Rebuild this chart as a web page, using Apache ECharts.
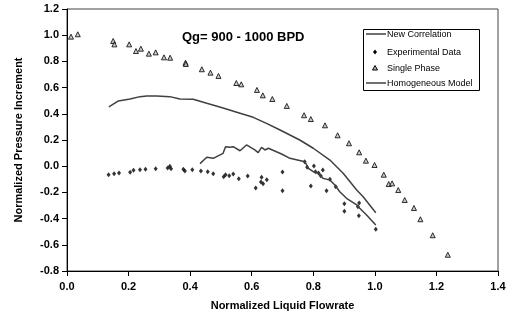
<!DOCTYPE html>
<html><head><meta charset="utf-8">
<script src="https://cdn.jsdelivr.net/npm/echarts@6/dist/echarts.min.js"></script>
<style>html,body{margin:0;padding:0;background:#fff}#c{width:516px;height:331px}</style>
</head><body><div id="c"></div>
<script>
const xTicks = [0.0, 0.2, 0.4, 0.6, 0.8, 1.0, 1.2, 1.4];
const yTicks = [-0.8, -0.6, -0.4, -0.2, 0.0, 0.2, 0.4, 0.6, 0.8, 1.0, 1.2];
const legendNames = ['New Correlation', 'Experimental Data', 'Single Phase', 'Homogeneous Model'];

const singlePhase = [
 [0.013,0.989],[0.035,1.007],[0.150,0.956],[0.154,0.930],[0.202,0.930],[0.224,0.879],[0.240,0.897],
 [0.266,0.859],[0.288,0.869],[0.315,0.831],[0.335,0.828],[0.385,0.790],[0.386,0.780],[0.438,0.740],
 [0.466,0.714],[0.492,0.689],[0.550,0.635],[0.566,0.625],[0.617,0.582],[0.636,0.541],[0.667,0.513],
 [0.714,0.460],[0.770,0.389],[0.792,0.360],[0.838,0.312],[0.879,0.236],[0.916,0.175],[0.949,0.106],
 [0.971,0.042],[0.999,0.009],[1.029,-0.065],[1.045,-0.136],[1.056,-0.131],[1.076,-0.182],[1.097,-0.258],
 [1.127,-0.319],[1.148,-0.405],[1.188,-0.527],[1.237,-0.676]
];

const experimental = [
 [0.135,-0.065],[0.153,-0.057],[0.169,-0.052],[0.205,-0.047],[0.216,-0.031],[0.237,-0.027],[0.255,-0.024],
 [0.288,-0.019],[0.327,-0.014],[0.334,-0.001],[0.338,-0.019],[0.378,-0.024],[0.383,-0.037],[0.407,-0.027],
 [0.435,-0.037],[0.457,-0.042],[0.475,-0.057],[0.509,-0.080],[0.515,-0.065],[0.527,-0.072],[0.540,-0.060],
 [0.558,-0.095],[0.587,-0.075],[0.613,-0.166],[0.630,-0.121],[0.632,-0.085],[0.637,-0.134],[0.649,-0.103],
 [0.700,-0.044],[0.700,-0.187],[0.772,0.034],[0.780,-0.008],[0.792,-0.151],[0.802,0.002],[0.807,-0.042],
 [0.817,-0.052],[0.824,-0.073],[0.831,-0.029],[0.843,-0.187],[0.854,-0.100],[0.873,-0.156],[0.901,-0.286],
 [0.901,-0.344],[0.945,-0.309],[0.949,-0.281],[0.948,-0.378],[1.003,-0.482]
];

const homogeneous = [
 [0.136,0.452],[0.167,0.498],[0.205,0.513],[0.237,0.531],[0.259,0.536],[0.291,0.536],[0.334,0.531],
 [0.367,0.513],[0.410,0.511],[0.454,0.480],[0.507,0.444],[0.562,0.404],[0.605,0.373],[0.648,0.327],
 [0.692,0.276],[0.724,0.238],[0.756,0.200],[0.800,0.137],[0.854,0.047],[0.897,-0.054],[0.941,-0.182],
 [0.962,-0.233],[1.003,-0.355]
];

const newCorrelation = [
 [0.432,0.020],[0.454,0.068],[0.475,0.060],[0.507,0.098],[0.515,0.149],[0.529,0.144],[0.540,0.149],
 [0.562,0.118],[0.583,0.162],[0.610,0.124],[0.621,0.103],[0.632,0.144],[0.643,0.124],[0.654,0.137],
 [0.697,0.093],[0.724,0.060],[0.773,0.034],[0.784,-0.016],[0.800,-0.042],[0.816,-0.054],[0.832,-0.093],
 [0.854,-0.105],[0.870,-0.144],[0.886,-0.195],[0.908,-0.245],[0.941,-0.296],[0.951,-0.321],[0.973,-0.373],
 [1.003,-0.449]
];

const FONT = 'Liberation Sans, Arial, sans-serif';
const LINE_COLOR = '#404040';

// legend built as graphic elements
const LX = 363, LY = 29, LW = 116, LH = 61;
const rowY = [34, 52, 68, 83];
const legendEls = [{type:'rect', shape:{x:LX+0.5, y:LY+0.5, width:LW, height:LH}, style:{fill:'#fff', stroke:'#000', lineWidth:1}, z:10}];
legendNames.forEach((nm, i) => {
  const cy = rowY[i];
  if (i === 0 || i === 3) {
    legendEls.push({type:'line', shape:{x1:366, y1:cy, x2:386, y2:cy}, style:{stroke:LINE_COLOR, lineWidth:1.5}, z:11});
  } else if (i === 1) {
    legendEls.push({type:'polygon', shape:{points:[[375,cy-2.5],[377,cy],[375,cy+2.5],[373,cy]]}, style:{fill:'#000'}, z:11});
  } else {
    legendEls.push({type:'polygon', shape:{points:[[375,cy-2.5],[377.5,cy+2],[372.5,cy+2]]}, style:{fill:'#bbb', stroke:'#000', lineWidth:1}, z:11});
  }
  legendEls.push({type:'text', x:387, y:cy + 0.5, style:{text:nm, fontFamily:FONT, fontSize:9, fill:'#000', verticalAlign:'middle'}, z:11});
});

const chart = echarts.init(document.getElementById('c'), null, {renderer:'canvas'});
chart.setOption({
  animation: false,
  backgroundColor: '#fff',
  title: {
    text: 'Qg= 900 - 1000 BPD', left: 177, top: 26,
    textStyle: {fontFamily: FONT, fontSize: 13, fontWeight: 'bold', color: '#000'}
  },
  grid: {left: 67, right: 18, top: 9, bottom: 60, show: true, borderColor: '#444', borderWidth: 1, backgroundColor: 'transparent'},
  xAxis: {
    type: 'value', min: xTicks[0], max: xTicks[xTicks.length-1], interval: 0.2,
    name: 'Normalized Liquid Flowrate', nameLocation: 'middle', nameGap: 29,
    nameTextStyle: {fontFamily: FONT, fontSize: 11, fontWeight: 'bold', color: '#000'},
    axisLine: {show: true, onZero: false, lineStyle: {color: '#000', width: 1}},
    axisTick: {show: true, inside: false, length: 5, lineStyle: {color: '#000'}},
    axisLabel: {fontFamily: FONT, fontSize: 11, fontWeight: 'bold', color: '#000', margin: 10,
      formatter: v => v.toFixed(1)},
    splitLine: {show: false}
  },
  yAxis: {
    type: 'value', min: yTicks[0], max: yTicks[yTicks.length-1], interval: 0.2,
    name: 'Normalized Pressure Increment', nameLocation: 'middle', nameGap: 43, nameRotate: 90,
    nameTextStyle: {fontFamily: FONT, fontSize: 11, fontWeight: 'bold', color: '#000'},
    axisLine: {show: true, onZero: false, lineStyle: {color: '#000', width: 1}},
    axisTick: {show: true, inside: false, length: 5, lineStyle: {color: '#000'}},
    axisLabel: {fontFamily: FONT, fontSize: 11, fontWeight: 'bold', color: '#000', margin: 8,
      formatter: v => v.toFixed(1)},
    splitLine: {show: false}
  },
  graphic: legendEls,
  series: [
    {name: legendNames[0], type: 'line', data: newCorrelation, symbol: 'none', showSymbol: false,
      lineStyle: {color: LINE_COLOR, width: 1.5}, itemStyle: {color: LINE_COLOR}},
    {name: legendNames[1], type: 'scatter', data: experimental, symbol: 'diamond', symbolSize: [4,5],
      itemStyle: {color: '#000'}},
    {name: legendNames[2], type: 'scatter', data: singlePhase, symbol: 'triangle', symbolSize: 5,
      itemStyle: {color: '#bbb', borderColor: '#000', borderWidth: 1}},
    {name: legendNames[3], type: 'line', data: homogeneous, symbol: 'none', showSymbol: false,
      lineStyle: {color: LINE_COLOR, width: 1.5}, itemStyle: {color: LINE_COLOR}}
  ]
});
</script></body></html>
